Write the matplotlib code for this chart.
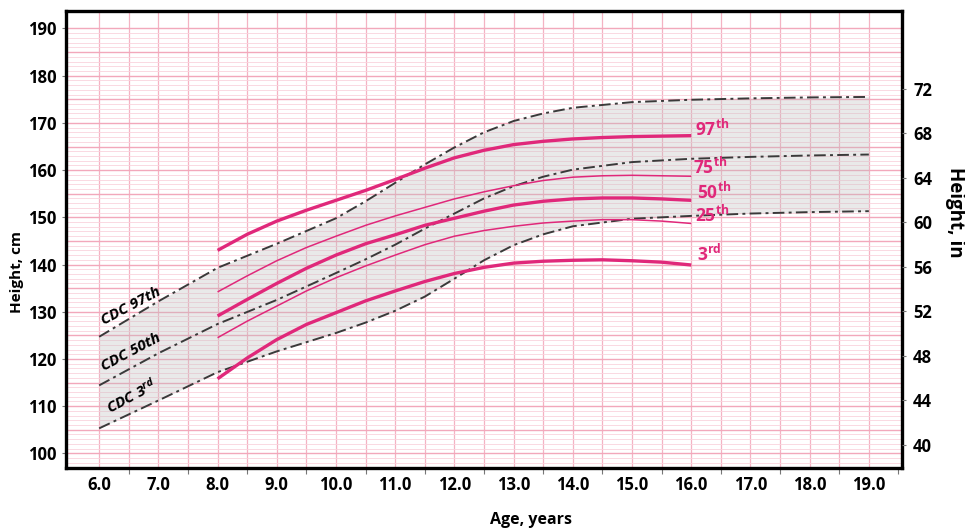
import numpy as np
import matplotlib
matplotlib.use('Agg')
import matplotlib.pyplot as plt

FONT = 'Open Sans'
plt.rcParams['font.family'] = [FONT, 'DejaVu Sans']
plt.rcParams['mathtext.fontset'] = 'custom'
plt.rcParams['mathtext.rm'] = FONT
plt.rcParams['mathtext.bf'] = FONT + ':bold'
plt.rcParams['mathtext.it'] = FONT + ':italic'
plt.rcParams['mathtext.bfit'] = FONT + ':italic:bold'

# ---------------- data ----------------
ages_study = [8.0, 8.5, 9.0, 9.5, 10.0, 10.5, 11.0, 11.5, 12.0, 12.5, 13.0,
              13.5, 14.0, 14.5, 15.0, 15.5, 16.0]
p97 = [143.0, 146.4, 149.2, 151.5, 153.6, 155.7, 158.0, 160.4, 162.6, 164.2, 165.4,
       166.1, 166.6, 166.9, 167.1, 167.2, 167.3]
p75 = [134.2, 137.6, 140.8, 143.6, 146.0, 148.3, 150.3, 152.1, 153.9, 155.4, 156.7,
       157.8, 158.5, 158.8, 158.9, 158.8, 158.7]
p50 = [129.1, 132.6, 136.0, 139.2, 142.0, 144.4, 146.3, 148.3, 149.8, 151.3, 152.6,
       153.4, 153.9, 154.1, 154.1, 153.9, 153.6]
p25 = [124.5, 128.0, 131.2, 134.4, 137.2, 139.7, 142.0, 144.2, 146.0, 147.2, 148.1,
       148.8, 149.2, 149.5, 149.5, 149.2, 148.7]
p3 = [115.8, 120.2, 124.1, 127.3, 129.8, 132.3, 134.4, 136.4, 138.1, 139.4, 140.3,
      140.7, 140.9, 141.0, 140.8, 140.5, 139.9]

ages_cdc = [6.0, 7.0, 8.0, 9.0, 10.0, 10.5, 11.0, 11.5, 12.0, 12.5, 13.0, 13.5,
            14.0, 15.0, 16.0, 17.0, 18.0, 19.0]
cdc97 = [124.7, 132.2, 139.3, 144.4, 149.8, 153.4, 157.3, 161.2, 164.8, 168.0, 170.4, 172.0,
         173.2, 174.4, 174.9, 175.2, 175.4, 175.5]
cdc50 = [114.4, 121.2, 127.4, 132.5, 138.2, 141.1, 144.2, 147.6, 150.8, 154.0, 156.6, 158.6,
         160.1, 161.7, 162.4, 162.8, 163.1, 163.3]
cdc3 = [105.3, 111.2, 117.2, 121.6, 125.5, 127.7, 130.2, 133.2, 137.0, 140.9, 144.1, 146.4,
        148.1, 149.7, 150.3, 150.8, 151.1, 151.3]

xtick_vals = list(range(6, 20))
ytick_cm = list(range(100, 200, 10))
ytick_in = list(range(40, 76, 4))

pct_labels = [r'$\mathbf{97^{th}}$', r'$\mathbf{75^{th}}$', r'$\mathbf{50^{th}}$',
              r'$\mathbf{25^{th}}$', r'$\mathbf{3^{rd}}$']

# ---------------- figure ----------------
PINK = '#E0287A'
fig = plt.figure(figsize=(9.65, 5.32), dpi=100)
ax = fig.add_axes([0.0684, 0.1203, 0.8663, 0.859])
ax.set_xlim(5.44, 19.56)
ax.set_ylim(96.9, 193.7)

# grid
for v in np.arange(6.0, 19.01, 0.5):
    ax.axvline(v, color='#F4B3C3', lw=0.9, zorder=1)
for h in np.arange(97, 191, 1):
    if h % 5 == 0:
        ax.axhline(h, color='#F2A8BB', lw=1.0, zorder=1)
    else:
        ax.axhline(h, color='#FAD3DD', lw=0.6, zorder=1)

# CDC band
ax.fill_between(ages_cdc, cdc3, cdc97, color='#BDBDBD', alpha=0.32, lw=0, zorder=2)
cdc_style = dict(color='#3a3a3a', lw=1.4, linestyle=(0, (6, 2.2, 1.5, 2.2)), zorder=4)
ax.plot(ages_cdc, cdc97, **cdc_style)
ax.plot(ages_cdc, cdc50, **cdc_style)
ax.plot(ages_cdc, cdc3, **cdc_style)

# study percentiles
series = [p97, p75, p50, p25, p3]
widths = [2.4, 1.1, 2.4, 1.1, 2.4]
for s, w in zip(series, widths):
    ax.plot(ages_study, s, color=PINK, lw=w, solid_capstyle='butt',
            solid_joinstyle='round', zorder=5)

label_pos = [(16.06, 168.6), (16.03, 160.6), (16.1, 155.4), (16.06, 150.4), (16.1, 142.2)]
for (lx, ly), t in zip(label_pos, pct_labels):
    ax.text(lx, ly, t, color=PINK, fontsize=12.5, ha='left', va='center', zorder=6)

# CDC labels
ax.text(6.53, 131.2, 'CDC 97th', rotation=28, fontsize=11, fontweight='bold',
        fontstyle='italic', ha='center', va='center', zorder=6)
ax.text(6.53, 121.4, 'CDC 50th', rotation=28, fontsize=11, fontweight='bold',
        fontstyle='italic', ha='center', va='center', zorder=6)
ax.text(6.55, 112.0, r'$\mathbfit{CDC\ 3^{rd}}$', rotation=28, fontsize=11,
        ha='center', va='center', zorder=6)

# spines
for sp in ax.spines.values():
    sp.set_linewidth(2.4)
    sp.set_color('black')
    sp.set_zorder(10)

# x ticks
ax.set_xticks(xtick_vals)
ax.set_xticklabels([f'{v:.1f}' for v in xtick_vals], fontsize=12, fontweight='bold')
ax.set_xticks(np.arange(6.5, 19.6, 1.0), minor=True)
ax.tick_params(axis='x', which='major', length=0, pad=6)
ax.tick_params(axis='x', which='minor', length=4, width=0.8, color='#777777')

# left y ticks
ax.set_yticks(ytick_cm)
ax.set_yticklabels([str(v) for v in ytick_cm], fontsize=12, fontweight='bold')
ax.tick_params(axis='y', which='major', length=3, width=0.8, color='#777777', pad=4)

# right axis (inches)
ax2 = ax.twinx()
ax2.set_ylim(37.93, 79.01)
ax2.set_yticks(ytick_in)
ax2.set_yticklabels([str(v) for v in ytick_in], fontsize=12, fontweight='bold')
ax2.tick_params(axis='y', length=3, width=0.8, color='#777777', pad=5)
for sp in ax2.spines.values():
    sp.set_visible(False)

# axis titles
fig.text(531 / 965, 1 - 520 / 532, 'Age, years', fontsize=11.5, fontweight='bold',
         ha='center', va='center')
fig.text(17 / 965, 1 - 272 / 532, 'Height, cm', fontsize=11, fontweight='bold',
         rotation=90, ha='center', va='center')
fig.text(955 / 965, 1 - 212 / 532, 'Height, in', fontsize=13.5, fontweight='bold',
         rotation=270, ha='center', va='center')

fig.savefig('out.png', dpi=100)
